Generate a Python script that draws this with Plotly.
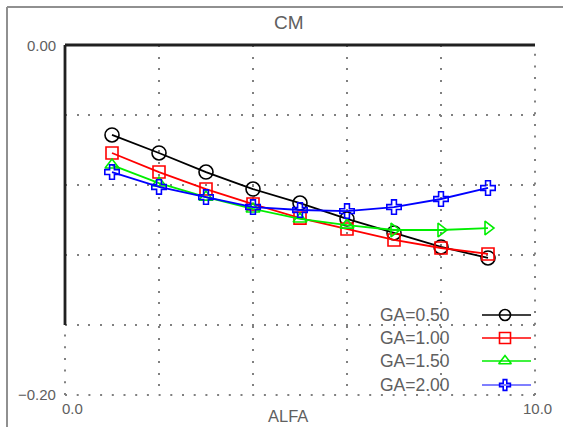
import plotly.graph_objects as go

# ---- data ----
alfa = [1, 2, 3, 4, 5, 6, 7, 8, 9]
series_names = ["GA=0.50", "GA=1.00", "GA=1.50", "GA=2.00"]
cm_ga050 = [-0.0514, -0.0617, -0.0726, -0.0823, -0.0903, -0.0994, -0.1074, -0.1154, -0.1217]
cm_ga100 = [-0.0617, -0.0726, -0.0823, -0.0909, -0.0989, -0.1051, -0.1114, -0.1160, -0.1194]
cm_ga150 = [-0.0686, -0.0789, -0.0869, -0.0937, -0.0994, -0.1029, -0.1057, -0.1057, -0.1046]
cm_ga200 = [-0.0726, -0.0811, -0.0869, -0.0926, -0.0943, -0.0949, -0.0926, -0.0880, -0.0817]
x_ticks = [0, 2, 4, 6, 8, 10]
y_ticks = [0, -0.04, -0.08, -0.12, -0.16, -0.20]

colors = ["#000000", "#ff0000", "#00ee00", "#0000ff"]
green_syms = ["triangle-up-open"] * 6 + ["triangle-right-open"] * 3
symbols = ["circle-open", "square-open", green_syms, "cross-open"]
sizes = [14, 12, 12, 12]
all_series = [cm_ga050, cm_ga100, cm_ga150, cm_ga200]

W, H = 563, 427
L, R, T, B = 65, 28, 45, 32
PW, PH = W - L - R, H - T - B
DASH = "2px,9.7px"
GRIDC = "#808080"

def px(xp):
    return (xp - L) / PW

def py(yp):
    return (H - B - yp) / PH

fig = go.Figure()

for name, ys, c, s, sz in zip(series_names, all_series, colors, symbols, sizes):
    fig.add_trace(go.Scatter(
        x=alfa, y=ys, mode="lines+markers", name=name,
        line=dict(color=c, width=1.8),
        marker=dict(symbol=s, size=sz, color=c, line=dict(color=c, width=1.6)),
        showlegend=False, cliponaxis=False,
    ))

# legend samples drawn on a hidden overlay axis
leg_rows = [315, 338, 361, 385]
leg_syms = ["circle-open", "square-open", "triangle-up-open", "cross-open"]
leg_sizes = [11, 11, 11, 9]
leg_w = [1.6, 1.6, 1.6, 1.1]
for name, c, s, sz, yr, lw in zip(series_names, colors, leg_syms, leg_sizes, leg_rows, leg_w):
    yy = py(yr)
    fig.add_trace(go.Scatter(
        x=[px(482), px(531)], y=[yy, yy], mode="lines",
        line=dict(color=c, width=lw), xaxis="x2", yaxis="y2",
        showlegend=False, hoverinfo="skip", cliponaxis=False))
    fig.add_trace(go.Scatter(
        x=[px(505)], y=[yy], mode="markers",
        marker=dict(symbol=s, size=sz, color=c, line=dict(color=c, width=1.6)),
        xaxis="x2", yaxis="y2", showlegend=False, hoverinfo="skip", cliponaxis=False))
    fig.add_annotation(x=px(452), y=yy, xref="paper", yref="paper", text=name,
                       showarrow=False, xanchor="right", yanchor="middle",
                       font=dict(size=17.5, color="#606060"))

grid = dict(showgrid=True, gridcolor=GRIDC, gridwidth=2, griddash=DASH,
            zeroline=False, showline=False, ticks="", showticklabels=False)

fig.update_layout(
    width=W, height=H, margin=dict(l=L, r=R, t=T, b=B),
    paper_bgcolor="white", plot_bgcolor="white",
    font=dict(family="Liberation Sans, Arial, sans-serif", color="#606060"),
    xaxis=dict(range=[0, 10], tickvals=x_ticks, **grid),
    yaxis=dict(range=[-0.2, 0], tickvals=y_ticks, **grid),
    xaxis2=dict(range=[0, 1], overlaying="x", visible=False),
    yaxis2=dict(range=[0, 1], overlaying="y", visible=False),
    showlegend=False,
)

# edge grid lines that plotly omits
edge = dict(color=GRIDC, width=2, dash=DASH)
fig.add_shape(type="line", xref="paper", yref="paper", x0=1, x1=1, y0=0, y1=1, line=edge, layer="below")
fig.add_shape(type="line", xref="paper", yref="paper", x0=0, x1=1, y0=0, y1=0, line=edge, layer="below")
fig.add_shape(type="line", xref="paper", yref="paper", x0=0, x1=0, y0=0, y1=py(325), line=edge, layer="below")

# axis lines (top and partial left)
fig.add_shape(type="line", xref="paper", yref="paper", x0=0, x1=1.0, y0=1, y1=1,
              line=dict(color="#202020", width=2.8))
fig.add_shape(type="line", xref="paper", yref="paper", x0=0, x1=0, y0=1, y1=py(325),
              line=dict(color="#202020", width=2.8))
# outer frame (top and left visible)
fig.add_shape(type="line", xref="paper", yref="paper", x0=px(7), x1=px(W + 5), y0=py(7), y1=py(7),
              line=dict(color="#909090", width=2))
fig.add_shape(type="line", xref="paper", yref="paper", x0=px(7), x1=px(7), y0=py(7), y1=py(H + 5),
              line=dict(color="#909090", width=2))

# tick labels and titles
lab = dict(size=15, color="#606060")
fig.add_annotation(x=px(58), y=py(45), xref="paper", yref="paper", text="0.00",
                   showarrow=False, xanchor="right", yanchor="middle", font=lab)
fig.add_annotation(x=px(58), y=py(394), xref="paper", yref="paper", text="\u22120.20",
                   showarrow=False, xanchor="right", yanchor="middle", font=lab)
fig.add_annotation(x=px(72), y=py(408), xref="paper", yref="paper", text="0.0",
                   showarrow=False, xanchor="center", yanchor="middle", font=lab)
fig.add_annotation(x=px(537), y=py(408), xref="paper", yref="paper", text="10.0",
                   showarrow=False, xanchor="center", yanchor="middle", font=lab)
fig.add_annotation(x=px(289), y=py(22), xref="paper", yref="paper", text="CM",
                   showarrow=False, xanchor="center", yanchor="middle",
                   font=dict(size=19, color="#606060"))
fig.add_annotation(x=px(288), y=py(427), xref="paper", yref="paper", text="ALFA",
                   showarrow=False, xanchor="center", yanchor="bottom",
                   font=dict(size=16.5, color="#606060"))

fig.write_html("out.html")
